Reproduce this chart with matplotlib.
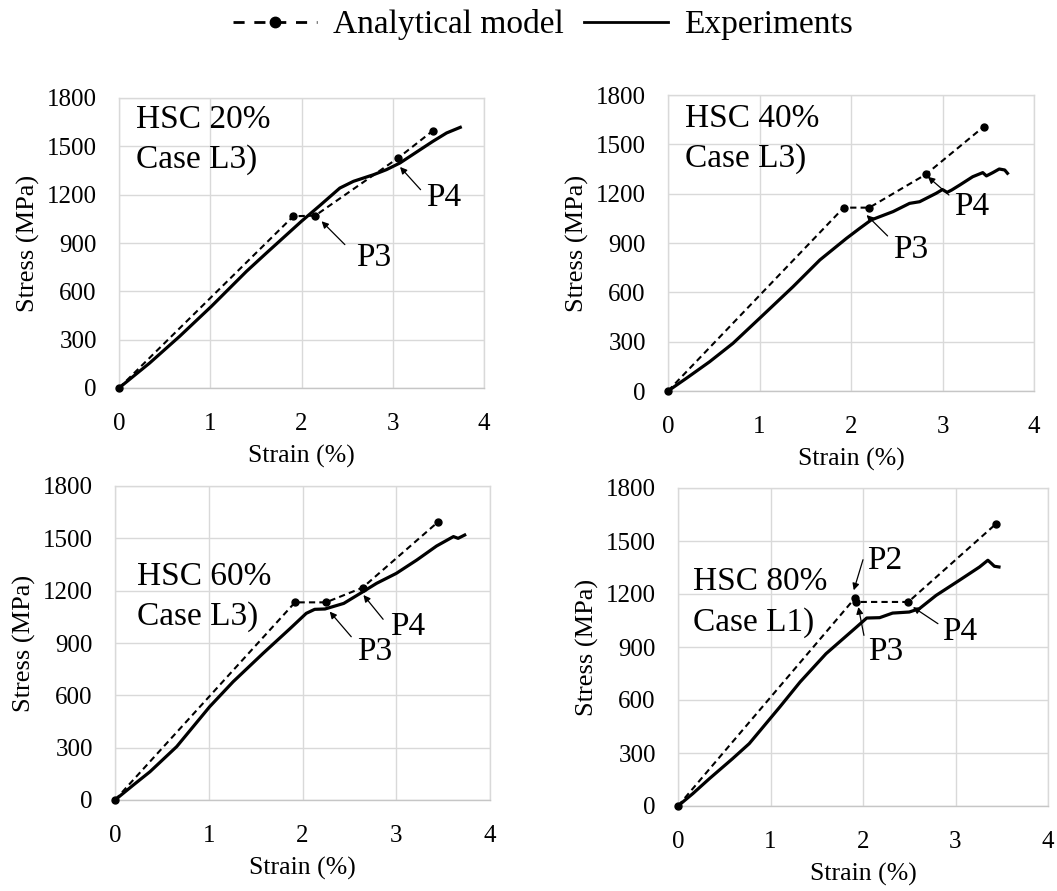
import matplotlib.pyplot as plt
from matplotlib.lines import Line2D

plt.rcParams['font.family'] = ['Liberation Serif', 'DejaVu Serif']

# Strain (%) and stress (MPa)
exp_strain_20 = [0, 0.336, 0.665, 1.013, 1.397, 1.616, 2.0, 2.2, 2.42, 2.57, 2.79, 2.93, 3.08, 3.3, 3.44, 3.59, 3.74]
exp_stress_20 = [0, 155, 321, 507, 724, 838, 1035, 1132, 1241, 1283, 1324, 1355, 1397, 1479, 1531, 1583, 1618]
mod_strain_20 = [0, 1.91, 2.15, 3.06, 3.44]
mod_stress_20 = [0, 1066, 1070, 1428, 1597]

exp_strain_40 = [0, 0.2, 0.455, 0.71, 1.02, 1.366, 1.66, 1.95, 2.095, 2.22, 2.46, 2.64, 2.75, 2.93, 3.0,
                 3.05, 3.1, 3.19, 3.33, 3.44, 3.48, 3.55, 3.62, 3.68, 3.71]
exp_stress_40 = [0, 77, 178, 290, 452, 634, 797, 928, 989, 1040, 1091, 1141, 1151, 1202, 1225,
                 1208, 1222, 1253, 1303, 1328, 1308, 1328, 1350, 1344, 1324]
mod_strain_40 = [0, 1.92, 2.20, 2.82, 3.45]
mod_stress_40 = [0, 1115, 1115, 1318, 1607]

exp_strain_60 = [0, 0.196, 0.373, 0.658, 1.01, 1.26, 1.58, 1.87, 2.04, 2.13, 2.24, 2.44, 2.63, 2.79,
                 3.0, 3.22, 3.43, 3.61, 3.66, 3.73]
exp_stress_60 = [0, 86, 162, 306, 535, 678, 841, 984, 1070, 1093, 1095, 1127, 1189, 1242,
                 1299, 1376, 1456, 1510, 1500, 1519]
mod_strain_60 = [0, 1.92, 2.25, 2.64, 3.45]
mod_stress_60 = [0, 1133, 1133, 1217, 1596]

exp_strain_80 = [0, 0.16, 0.34, 0.59, 0.77, 1.10, 1.32, 1.60, 1.93, 2.04, 2.18, 2.32, 2.50, 2.61,
                 2.79, 3.04, 3.26, 3.35, 3.39, 3.42, 3.47]
exp_stress_80 = [0, 70, 155, 268, 353, 560, 702, 862, 1013, 1064, 1066, 1092, 1098, 1117,
                 1192, 1277, 1353, 1391, 1372, 1357, 1353]
mod_strain_80 = [0, 1.91, 1.92, 2.49, 3.44]
mod_stress_80 = [0, 1175, 1155, 1155, 1598]

titles = ["HSC 20%\nCase L3)", "HSC 40%\nCase L3)", "HSC 60%\nCase L3)", "HSC 80%\nCase L1)"]

fig = plt.figure(figsize=(10.57, 8.91), dpi=100)
W, H = 1057, 891

# axes boxes in pixels: left, top, right, bottom
boxes = [(119, 98, 484, 388), (668, 95, 1034, 391), (115, 486, 490, 800), (678, 488, 1048, 806)]

panels = [
    (exp_strain_20, exp_stress_20, mod_strain_20, mod_stress_20, (0.19, 1760),
     [("P3", (2.60, 755), (2.475, 890), (2.22, 1035)), ("P4", (3.37, 1128), (3.305, 1231), (3.08, 1372))]),
    (exp_strain_40, exp_stress_40, mod_strain_40, mod_stress_40, (0.19, 1750),
     [("P3", (2.46, 807), (2.40, 943), (2.17, 1070)), ("P4", (3.13, 1070), (3.07, 1192), (2.84, 1303))]),
    (exp_strain_60, exp_stress_60, mod_strain_60, mod_stress_60, (0.23, 1366),
     [("P3", (2.58, 803), (2.52, 936), (2.29, 1080)), ("P4", (2.93, 946), (2.86, 1036), (2.65, 1175))]),
    (exp_strain_80, exp_stress_80, mod_strain_80, mod_stress_80, (0.16, 1353),
     [("P2", (2.04, 1343), (2.0, 1394), (1.90, 1221)), ("P3", (2.05, 825), (2.01, 966), (1.95, 1126)),
      ("P4", (2.85, 938), (2.81, 1032), (2.54, 1126))]),
]

for (l, t, r, b), (es, ef, ms, mf, tpos, notes), title in zip(boxes, panels, titles):
    ax = fig.add_axes([l / W, 1 - b / H, (r - l) / W, (b - t) / H])
    ax.plot(es, ef, color='black', lw=2.3, solid_joinstyle='round', zorder=3)
    ax.plot(ms, mf, color='black', lw=1.5, ls=(0, (3, 2)), marker='o', ms=5, clip_on=False, zorder=4)
    ax.set_xlim(0, 4)
    ax.set_ylim(0, 1800)
    ax.set_xticks([0, 1, 2, 3, 4])
    ax.set_yticks(range(0, 1801, 300))
    ax.tick_params(length=0, labelsize=18)
    ax.tick_params(axis='x', pad=18)
    ax.tick_params(axis='y', pad=16)
    ax.grid(color='#d9d9d9', lw=1)
    ax.set_axisbelow(True)
    for s in ax.spines.values():
        s.set_color('#d9d9d9')
        s.set_linewidth(1)
    ax.spines['bottom'].set_color('#c6c6c6')
    ax.set_xlabel("Strain (%)", fontsize=18.5)
    ax.set_ylabel("Stress (MPa)", fontsize=19, va='center')
    ax.xaxis.set_label_coords(0.5, -57 / (b - t))
    ax.yaxis.set_label_coords(-91 / (r - l), 0.5)
    ax.text(tpos[0], tpos[1], title, fontsize=24, va='top', ha='left', linespacing=1.4)
    for lab, txy, tail, tip in notes:
        ax.annotate('', xy=tip, xytext=tail,
                    arrowprops=dict(arrowstyle='-|>', color='black', lw=0.9,
                                    mutation_scale=10, shrinkA=0, shrinkB=0))
        ax.text(txy[0], txy[1], lab, fontsize=24, ha='left', va='baseline')

handles = [Line2D([], [], color='black', lw=2, ls=(0, (4, 3.5)), marker='o', ms=7.5),
           Line2D([], [], color='black', lw=2)]
fig.legend(handles, ["Analytical model", "Experiments"], loc='center', bbox_to_anchor=(0.514, 0.972),
           ncol=2, frameon=False, fontsize=24, handlelength=2.5, handletextpad=0.5, columnspacing=0.6)

fig.savefig("out.png", dpi=100)
